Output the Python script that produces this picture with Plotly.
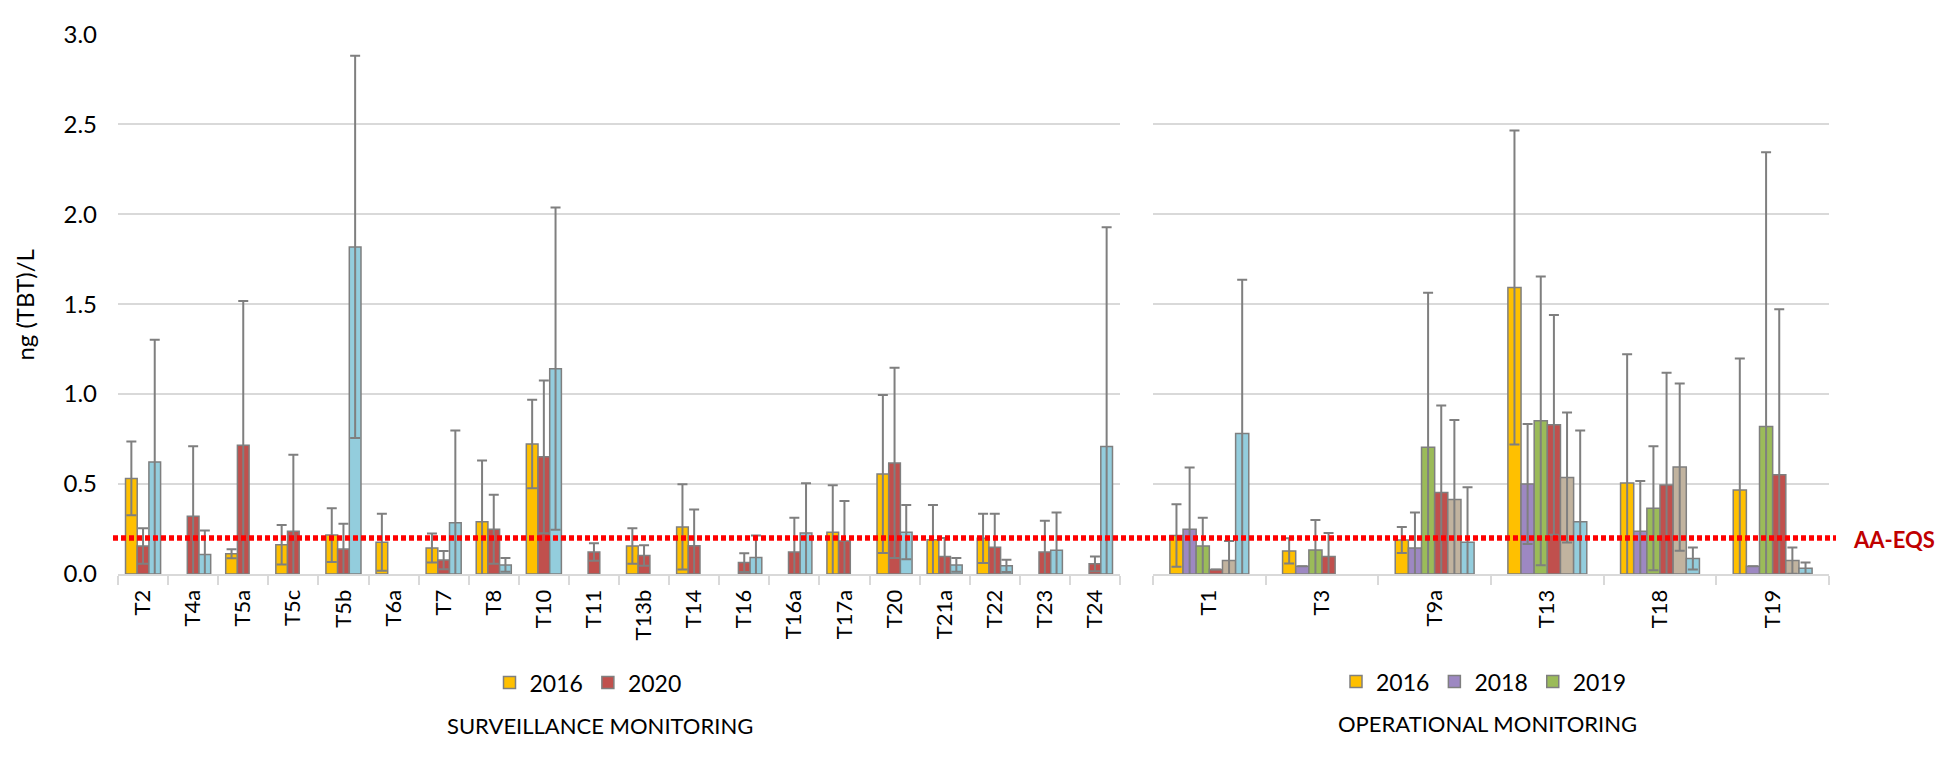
import plotly.graph_objects as go

# ---------------- data ----------------
surv_sites = ["T2", "T4a", "T5a", "T5c", "T5b", "T6a", "T7", "T8", "T10", "T11",
              "T13b", "T14", "T16", "T16a", "T17a", "T20", "T21a", "T22", "T23", "T24"]
surv_2016 = [0.531, None, 0.112, 0.162, 0.216, 0.176, 0.144, 0.290, 0.722, None,
             0.155, 0.261, None, None, 0.232, 0.556, 0.190, 0.198, None, None]
surv_2016_err = [0.205, 0, 0.025, 0.110, 0.149, 0.159, 0.081, 0.340, 0.246, 0,
                 0.099, 0.237, 0, 0, 0.261, 0.439, 0.193, 0.137, 0, 0]
surv_2020 = [0.155, 0.320, 0.716, 0.237, 0.138, None, 0.077, 0.248, 0.651, 0.122,
             0.103, 0.156, 0.063, 0.122, 0.183, 0.617, 0.097, 0.149, 0.122, 0.056]
surv_2020_err = [0.099, 0.390, 0.801, 0.425, 0.141, 0, 0.051, 0.192, 0.425, 0.049,
                 0.057, 0.202, 0.052, 0.191, 0.222, 0.529, 0.103, 0.186, 0.173, 0.041]
surv_2022 = [0.622, 0.108, None, None, 1.818, None, 0.284, 0.050, 1.141, None,
             None, None, 0.092, 0.227, None, 0.232, 0.050, 0.045, 0.131, 0.709]
surv_2022_err = [0.680, 0.133, 0, 0, 1.062, 0, 0.513, 0.038, 0.896, 0,
                 0, 0, 0.122, 0.277, 0, 0.151, 0.038, 0.034, 0.211, 1.218]

op_sites = ["T1", "T3", "T9a", "T13", "T18", "T19"]
op_2016 = [0.214, 0.128, 0.189, 1.592, 0.505, 0.466]
op_2016_err = [0.174, 0.070, 0.072, 0.873, 0.716, 0.732]
op_2018 = [0.248, 0.043, 0.144, 0.500, 0.237, 0.043]
op_2018_err = [0.344, 0, 0.198, 0.333, 0.279, 0]
op_2019 = [0.155, 0.133, 0.704, 0.851, 0.365, 0.820]
op_2019_err = [0.158, 0.167, 0.859, 0.803, 0.345, 1.524]
op_2020 = [0.025, 0.097, 0.453, 0.829, 0.495, 0.552]
op_2020_err = [0, 0.130, 0.483, 0.611, 0.623, 0.919]
op_2021 = [0.074, None, 0.414, 0.536, 0.594, 0.074]
op_2021_err = [0.109, 0, 0.442, 0.361, 0.465, 0.073]
op_2022 = [0.781, None, 0.176, 0.290, 0.086, 0.032]
op_2022_err = [0.855, 0, 0.306, 0.508, 0.061, 0.031]

aa_eqs = 0.2
y_ticks = [0.0, 0.5, 1.0, 1.5, 2.0, 2.5, 3.0]

# ---------------- style ----------------
W, H = 1949, 762
FONT = "Lato"
C2016, C2018, C2019 = "#FFC000", "#9D88C2", "#9BBB59"
C2020, C2021, C2022 = "#C0504D", "#C1B39F", "#93CDDD"
EDGE = "#7F7F7F"


def px(x):
    return x / W


def py(y):
    return (H - y) / H


def bar(x, y, err, name, color, xa, ya, legend, show):
    return go.Bar(
        x=x, y=y, name=name, xaxis=xa, yaxis=ya, legend=legend, showlegend=show,
        marker=dict(color=color, line=dict(color=EDGE, width=1.5)),
        error_y=dict(type="data", array=err, symmetric=True, color=EDGE,
                     thickness=2, width=5),
    )


fig = go.Figure()
fig.add_trace(bar(surv_sites, surv_2016, surv_2016_err, "2016", C2016, "x", "y", "legend", True))
fig.add_trace(bar(surv_sites, surv_2020, surv_2020_err, "2020", C2020, "x", "y", "legend", True))
fig.add_trace(bar(surv_sites, surv_2022, surv_2022_err, "2022", C2022, "x", "y", "legend", False))

fig.add_trace(bar(op_sites, op_2016, op_2016_err, "2016", C2016, "x2", "y2", "legend2", True))
fig.add_trace(bar(op_sites, op_2018, op_2018_err, "2018", C2018, "x2", "y2", "legend2", True))
fig.add_trace(bar(op_sites, op_2019, op_2019_err, "2019", C2019, "x2", "y2", "legend2", True))
fig.add_trace(bar(op_sites, op_2020, op_2020_err, "2020", C2020, "x2", "y2", "legend2", False))
fig.add_trace(bar(op_sites, op_2021, op_2021_err, "2021", C2021, "x2", "y2", "legend2", False))
fig.add_trace(bar(op_sites, op_2022, op_2022_err, "2022", C2022, "x2", "y2", "legend2", False))

xaxis_common = dict(
    type="category", showline=True, linecolor="#D9D9D9", linewidth=2,
    ticks="outside", tickson="boundaries", ticklen=9, tickcolor="#D9D9D9", tickwidth=1.5,
    tickangle=-90, tickfont=dict(family=FONT, size=22, color="#000000"),
    ticklabelstandoff=5,
    showgrid=False, zeroline=False, fixedrange=True,
)
yaxis_common = dict(
    range=[0, 3], tickvals=y_ticks, tickformat=".1f", showgrid=True,
    gridcolor="#D9D9D9", gridwidth=1.5, zeroline=False, showline=False,
    tickfont=dict(family=FONT, size=24, color="#000000"), ticks="",
)

y_dom = [py(580), py(19)]
fig.update_layout(
    width=W, height=H,
    margin=dict(l=0, r=0, t=0, b=0),
    paper_bgcolor="white", plot_bgcolor="white",
    barmode="group", bargap=0.3, bargroupgap=0,
    font=dict(family=FONT, color="#000000"),
    xaxis=dict(domain=[px(118), px(1120)], anchor="y", **xaxis_common),
    xaxis2=dict(domain=[px(1153), px(1829)], anchor="y2", **xaxis_common),
    yaxis=dict(domain=y_dom, anchor="x", ticklabelstandoff=20, **yaxis_common),
    yaxis2=dict(domain=y_dom, anchor="x2", matches="y", showticklabels=False,
                **yaxis_common),
    legend=dict(orientation="h", x=px(588), xanchor="center", y=py(693), yanchor="middle",
                font=dict(family=FONT, size=23), bgcolor="rgba(0,0,0,0)",
                itemwidth=30, tracegroupgap=0),
    legend2=dict(orientation="h", x=px(1484), xanchor="center", y=py(692), yanchor="middle",
                 font=dict(family=FONT, size=23), bgcolor="rgba(0,0,0,0)",
                 itemwidth=30, tracegroupgap=0),
    showlegend=True,
)

# AA-EQS dotted threshold line
fig.add_shape(type="line", xref="paper", yref="y", x0=px(113), x1=px(1836),
              y0=aa_eqs, y1=aa_eqs, layer="above",
              line=dict(color="#FF0000", width=5.5, dash="5px,3px"))
fig.add_annotation(xref="paper", yref="paper", x=px(1851), y=py(544), text="<b>AA-EQS</b>",
                   showarrow=False, xanchor="left", yanchor="middle",
                   font=dict(family=FONT, size=22, color="#C00000"))

# axis title and panel titles
fig.add_annotation(xref="paper", yref="paper", x=px(25), y=py(300), text="ng (TBT)/L",
                   textangle=-90, showarrow=False, xanchor="center", yanchor="middle",
                   font=dict(family=FONT, size=24, color="#000000"))
fig.add_annotation(xref="paper", yref="paper", x=px(600), y=py(738),
                   text="SURVEILLANCE MONITORING", showarrow=False,
                   xanchor="center", yanchor="middle",
                   font=dict(family=FONT, size=22, color="#000000"))
fig.add_annotation(xref="paper", yref="paper", x=px(1487), y=py(736),
                   text="OPERATIONAL MONITORING", showarrow=False,
                   xanchor="center", yanchor="middle",
                   font=dict(family=FONT, size=22, color="#000000"))

fig.write_html("out.html",
               config={"displayModeBar": False},
               post_script="document.body.style.margin='0';"
                           "document.body.style.overflow='hidden';")
